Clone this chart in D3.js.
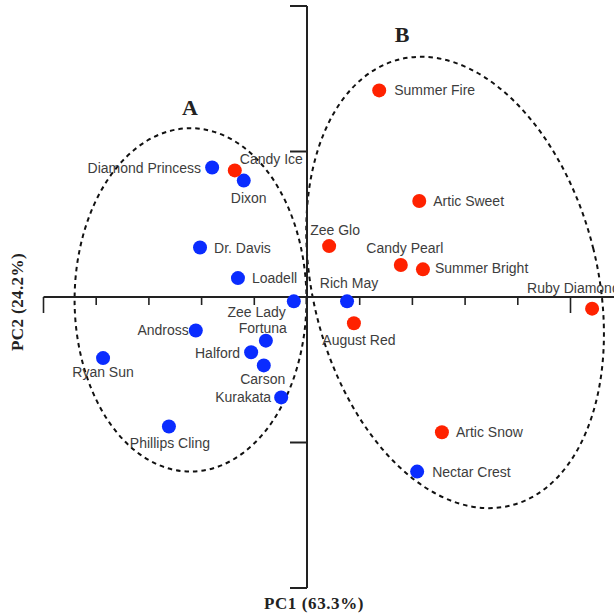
<!DOCTYPE html>
<html><head><meta charset="utf-8">
<script src="https://cdn.jsdelivr.net/npm/d3@7/dist/d3.min.js"></script>
<style>html,body{margin:0;padding:0;background:#fff;}svg{display:block;}</style>
</head><body>
<script>
// Cultivar scores on PC1 / PC2
const blueNames = ["Diamond Princess","Dixon","Dr. Davis","Loadell","Zee Lady","Andross","Fortuna","Halford","Carson","Kurakata","Ryan Sun","Phillips Cling","Rich May","Nectar Crest"];
const bluePC1 = [-1.80,-1.20,-2.03,-1.31,-0.25,-2.11,-0.78,-1.06,-0.82,-0.49,-3.87,-2.62,0.76,2.09];
const bluePC2 = [0.89,0.80,0.34,0.13,-0.03,-0.23,-0.30,-0.38,-0.47,-0.69,-0.42,-0.89,-0.03,-1.20];
const redNames = ["Candy Ice","Summer Fire","Artic Sweet","Zee Glo","Candy Pearl","Summer Bright","Ruby Diamond","August Red","Artic Snow"];
const redPC1 = [-1.37,1.37,2.13,0.42,1.78,2.20,5.41,0.89,2.56];
const redPC2 = [0.87,1.42,0.66,0.35,0.22,0.19,-0.08,-0.18,-0.93];
const xTicks = [-5,-4,-3,-2,-1,1,2,3,4,5];
const yTicks = [-2,-1,1,2];
// Group ellipses (data units): centre, semi-axes, rotation
const groupNames = ["A","B"];
const groupCx = [-2.21, 2.81];
const groupCy = [-0.02, 0.10];
const groupRx = [2.20, 2.70];
const groupRy = [1.18, 1.58];
const groupRot = [0, -14];

// label placement (pixels relative to point)
const labelPos = {
  "Diamond Princess":["end",-11,0], "Candy Ice":["start",5,-11], "Dixon":["middle",5,17],
  "Dr. Davis":["start",14,0], "Loadell":["start",14,0], "Zee Lady":["end",-8,11],
  "Fortuna":["end",21,-13], "Andross":["end",-7,0], "Halford":["end",-11,1],
  "Ryan Sun":["middle",0,14], "Carson":["middle",-1,14], "Kurakata":["end",-10,0],
  "Phillips Cling":["middle",1,17], "Summer Fire":["start",15,0], "Artic Sweet":["start",14,0],
  "Zee Glo":["middle",6,-16], "Candy Pearl":["middle",4,-17], "Summer Bright":["start",12,-1],
  "Rich May":["middle",2,-18], "Ruby Diamond":["start",-65,-21], "August Red":["middle",5,17],
  "Artic Snow":["start",14,0], "Nectar Crest":["start",15,0]
};

const W = 614, H = 616;
const svg = d3.select("body").append("svg").attr("width", W).attr("height", H);
const x = d3.scaleLinear().domain([-5, 5]).range([43.5, 570.5]);
const y = d3.scaleLinear().domain([-2, 2]).range([588, 6]);
const ax = "#222";

// ellipses
groupNames.forEach((g, i) => {
  const cx = x(groupCx[i]), cy = y(groupCy[i]);
  const rx = x(groupRx[i]) - x(0), ry = y(0) - y(groupRy[i]);
  svg.append("ellipse")
    .attr("cx", 0).attr("cy", 0).attr("rx", rx).attr("ry", ry)
    .attr("transform", `translate(${cx},${cy}) rotate(${groupRot[i]})`)
    .attr("fill", "none").attr("stroke", "#111").attr("stroke-width", 2)
    .attr("stroke-dasharray", "4.5,4");
});

// horizontal axis
svg.append("line").attr("x1", x(-5)).attr("x2", W).attr("y1", y(0)).attr("y2", y(0))
  .attr("stroke", ax).attr("stroke-width", 2);
svg.selectAll(".xt").data(xTicks).enter().append("line")
  .attr("x1", d => x(d)).attr("x2", d => x(d))
  .attr("y1", y(0)).attr("y2", d => y(0) + (Math.abs(d) === 5 ? 16 : 8))
  .attr("stroke", ax).attr("stroke-width", 1.6);
// vertical axis
svg.append("line").attr("x1", x(0)).attr("x2", x(0)).attr("y1", y(2)).attr("y2", y(-2))
  .attr("stroke", ax).attr("stroke-width", 2);
svg.selectAll(".yt").data(yTicks).enter().append("line")
  .attr("x1", x(0) - 17).attr("x2", x(0))
  .attr("y1", d => y(d)).attr("y2", d => y(d))
  .attr("stroke", ax).attr("stroke-width", 2);

// points
function drawSet(names, px, py, color) {
  const data = names.map((n, i) => ({n, a: px[i], b: py[i]}));
  svg.selectAll(null).data(data).enter().append("circle")
    .attr("cx", d => x(d.a)).attr("cy", d => y(d.b)).attr("r", 7).attr("fill", color);
  return data;
}
const all = drawSet(blueNames, bluePC1, bluePC2, "#0a2cff")
  .concat(drawSet(redNames, redPC1, redPC2, "#ff2200"));

svg.selectAll(".lab").data(all).enter().append("text")
  .attr("x", d => x(d.a) + labelPos[d.n][1])
  .attr("y", d => y(d.b) + labelPos[d.n][2])
  .attr("text-anchor", d => labelPos[d.n][0])
  .attr("dominant-baseline", "central")
  .attr("font-family", "Liberation Sans, Arial, sans-serif")
  .attr("font-size", 14).attr("fill", "#3d3d3d")
  .text(d => d.n);

// group letters
const letterX = [190, 402], letterY = [107, 34];
groupNames.forEach((g, i) => {
  svg.append("text").attr("x", letterX[i]).attr("y", letterY[i])
    .attr("text-anchor", "middle").attr("dominant-baseline", "central")
    .attr("font-family", "Liberation Serif, Times New Roman, serif")
    .attr("font-weight", "bold").attr("font-size", 22).attr("fill", "#222").text(g);
});

// axis titles
svg.append("text").attr("x", 314).attr("y", 603)
  .attr("text-anchor", "middle").attr("dominant-baseline", "central")
  .attr("font-family", "Liberation Serif, Times New Roman, serif")
  .attr("font-weight", "bold").attr("font-size", 17).attr("fill", "#222")
  .attr("letter-spacing", 0.6)
  .text("PC1 (63.3%)");
svg.append("text").attr("transform", "translate(17,302) rotate(-90)")
  .attr("text-anchor", "middle").attr("dominant-baseline", "central")
  .attr("font-family", "Liberation Serif, Times New Roman, serif")
  .attr("font-weight", "bold").attr("font-size", 17).attr("fill", "#222")
  .attr("letter-spacing", 0.4)
  .text("PC2 (24.2%)");
</script>
</body></html>
